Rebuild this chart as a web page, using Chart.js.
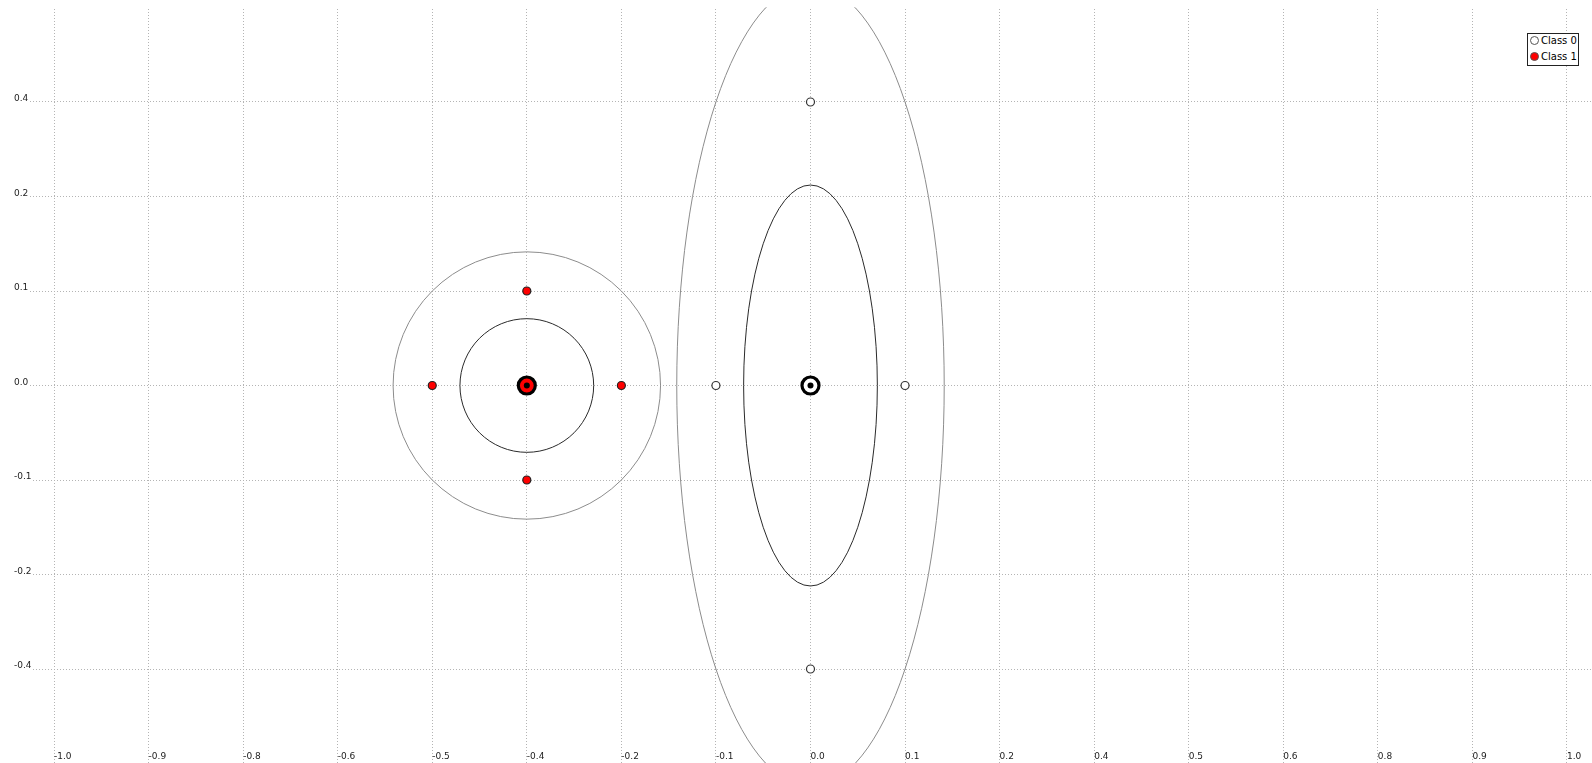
<!DOCTYPE html>
<html>
<head>
<meta charset="utf-8">
<title>Class distributions</title>
<script src="https://cdn.jsdelivr.net/npm/chart.js@4.4.1/dist/chart.umd.min.js"></script>
<style>
  body { margin: 0; background: #fff; }
  #wrap { position: relative; width: 1592px; height: 763px; }
  #legend {
    position: absolute; left: 1527px; top: 33px; width: 50px; height: 31px;
    border: 1px solid #222; background: #fff;
    font: 10px "DejaVu Sans", sans-serif; color: #000;
  }
  #legend .item { position: absolute; left: 2px; height: 14px; line-height: 14px; white-space: nowrap; }
  #legend .dot {
    display: inline-block; width: 7px; height: 7px; border-radius: 50%;
    border: 1px solid #555; vertical-align: -1px; margin-right: 2px; box-sizing: content-box;
  }
</style>
</head>
<body>
<div id="wrap">
  <canvas id="chart" width="1592" height="763"></canvas>
  <div id="legend"></div>
</div>
<script>
// Tick positions and the (rounded) labels printed at them
const xTickValues = [-1, -0.875, -0.75, -0.625, -0.5, -0.375, -0.25, -0.125, 0, 0.125, 0.25, 0.375, 0.5, 0.625, 0.75, 0.875, 1];
const xTickLabels = ['-1.0', '-0.9', '-0.8', '-0.6', '-0.5', '-0.4', '-0.2', '-0.1', '0.0', '0.1', '0.2', '0.4', '0.5', '0.6', '0.8', '0.9', '1.0'];
const yTickValues = [0.375, 0.25, 0.125, 0, -0.125, -0.25, -0.375];
const yTickLabels = ['0.4', '0.2', '0.1', '0.0', '-0.1', '-0.2', '-0.4'];

// Sample points per class
const classNames = ['Class 0', 'Class 1'];
const class0X = [0, 0, -0.125, 0.125];
const class0Y = [0.375, -0.375, 0, 0];
const class1X = [-0.375, -0.375, -0.5, -0.25];
const class1Y = [0.125, -0.125, 0, 0];

const classes = [
  { name: classNames[0], xs: class0X, ys: class0Y, fill: '#ffffff', edge: '#333333' },
  { name: classNames[1], xs: class1X, ys: class1Y, fill: '#ff0000', edge: '#222222' },
];

// mean and standard deviation of a class
function stats(xs, ys) {
  const n = xs.length;
  const mx = xs.reduce((a, b) => a + b, 0) / n;
  const my = ys.reduce((a, b) => a + b, 0) / n;
  const sx = Math.sqrt(xs.reduce((a, b) => a + (b - mx) * (b - mx), 0) / n);
  const sy = Math.sqrt(ys.reduce((a, b) => a + (b - my) * (b - my), 0) / n);
  return { mx, my, sx, sy };
}

const toPoints = (xs, ys) => xs.map((x, i) => ({ x, y: ys[i] }));

// 1 and 2 sigma ellipses around each class mean
const ellipsePlugin = {
  id: 'classEllipses',
  beforeDatasetsDraw(chart) {
    const { ctx, chartArea } = chart;
    const xs = chart.scales.x;
    const ys = chart.scales.y;
    ctx.save();
    ctx.beginPath();
    ctx.rect(0, chartArea.top - 2, chart.width, chart.height);
    ctx.clip();
    classes.forEach((c) => {
      const s = stats(c.xs, c.ys);
      const cx = xs.getPixelForValue(s.mx);
      const cy = ys.getPixelForValue(s.my);
      [[1, '#2a2a2a'], [2, '#8c8c8c']].forEach(([k, color]) => {
        const rx = Math.abs(xs.getPixelForValue(s.mx + k * s.sx) - cx);
        const ry = Math.abs(ys.getPixelForValue(s.my + k * s.sy) - cy);
        ctx.beginPath();
        ctx.ellipse(cx, cy, rx, ry, 0, 0, 2 * Math.PI);
        ctx.strokeStyle = color;
        ctx.lineWidth = 1;
        ctx.stroke();
      });
    });
    ctx.restore();
  }
};

// lower order is drawn on top
const datasets = [];
classes.forEach((c) => {
  datasets.push({
    label: c.name,
    data: toPoints(c.xs, c.ys),
    pointRadius: 4,
    pointBackgroundColor: c.fill,
    pointBorderColor: c.edge,
    pointBorderWidth: 1.2,
    order: 2,
    inLegend: true,
  });
});
classes.forEach((c) => {
  const s = stats(c.xs, c.ys);
  datasets.push({
    label: c.name + ' mean',
    data: [{ x: s.mx, y: s.my }],
    pointRadius: 8.5,
    pointBackgroundColor: c.fill,
    pointBorderColor: '#000',
    pointBorderWidth: 3.2,
    order: 1,
  });
  datasets.push({
    label: c.name + ' centre',
    data: [{ x: s.mx, y: s.my }],
    pointRadius: 3,
    pointBackgroundColor: '#000',
    pointBorderColor: '#000',
    pointBorderWidth: 0,
    order: 0,
  });
});

const gridStyle = { color: '#b4b4b4', lineWidth: 1, drawTicks: false };
const borderStyle = { display: false, dash: [1, 2] };
const tickFont = { family: 'DejaVu Sans', size: 9 };

const chart = new Chart(document.getElementById('chart'), {
  type: 'scatter',
  data: { datasets },
  options: {
    responsive: false,
    animation: false,
    events: [],
    layout: { autoPadding: false, padding: { top: 9, left: 0, right: 0, bottom: 0 } },
    plugins: { legend: { display: false }, tooltip: { enabled: false } },
    scales: {
      x: {
        type: 'linear',
        min: -1.0714,
        max: 1.0331,
        grid: gridStyle,
        border: borderStyle,
        afterBuildTicks: (scale) => { scale.ticks = xTickValues.map((v) => ({ value: v })); },
        afterFit: (scale) => { scale.height = 0; scale.paddingLeft = 0; scale.paddingRight = 0; },
        ticks: {
          mirror: true,
          align: 'start',
          padding: 1,
          font: tickFont,
          color: '#222',
          maxRotation: 0,
          autoSkip: false,
          callback: (value, index) => xTickLabels[index],
        },
      },
      y: {
        type: 'linear',
        min: -0.4993,
        max: 0.498,
        grid: gridStyle,
        border: borderStyle,
        afterBuildTicks: (scale) => { scale.ticks = yTickValues.map((v) => ({ value: v })); },
        afterFit: (scale) => { scale.width = 0; scale.paddingTop = 0; scale.paddingBottom = 0; },
        ticks: {
          mirror: true,
          padding: 14,
          labelOffset: -3,
          font: tickFont,
          color: '#222',
          autoSkip: false,
          showLabelBackdrop: true,
          backdropColor: '#ffffff',
          backdropPadding: { left: 14, right: 1, top: 2, bottom: 2 },
          callback: (value, index) => yTickLabels[index],
        },
      },
    },
  },
  plugins: [ellipsePlugin],
});

// HTML legend built from the class datasets
const legendBox = document.getElementById('legend');
chart.data.datasets.filter((d) => d.inLegend).forEach((d, i) => {
  const item = document.createElement('div');
  item.className = 'item';
  item.style.top = (i * 16) + 'px';
  const dot = document.createElement('span');
  dot.className = 'dot';
  dot.style.background = d.pointBackgroundColor;
  item.appendChild(dot);
  item.appendChild(document.createTextNode(d.label));
  legendBox.appendChild(item);
});
</script>
</body>
</html>
